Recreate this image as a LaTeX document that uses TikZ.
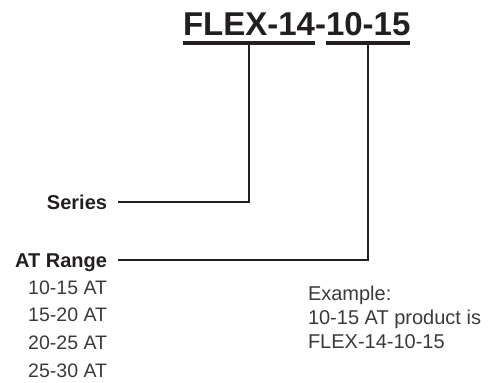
\documentclass[tikz,border=0pt]{standalone}
\usepackage{fontspec}
\setmainfont{Liberation Sans}
\usetikzlibrary{calc}
\definecolor{ink}{HTML}{231F20}
\definecolor{txt}{HTML}{3A3A3A}
\begin{document}
\begin{tikzpicture}[x=1pt,y=-1pt,
  every node/.style={inner sep=0pt,outer sep=0pt},
  title/.style={font=\fontsize{33}{33}\selectfont\bfseries,text=ink,anchor=base west},
  label/.style={font=\fontsize{20}{24}\selectfont\bfseries,text=ink,anchor=base east},
  item/.style={font=\fontsize{19.5}{24}\selectfont,text=txt,anchor=base east},
  note/.style={font=\fontsize{20}{24}\selectfont,text=txt,anchor=base west},
  uline/.style={line width=3.5pt,draw=ink},
  conn/.style={line width=2pt,draw=ink}]
\useasboundingbox (0,0) rectangle (493,383);
% title
\node[title] (t1) at (183,35) {FLEX-14};
\node[title] (t2) at (t1.base east) {-};
\node[title] (t3) at (t2.base east) {10-15};
\draw[uline] ($(t1.base west)+(0,7.75)$) -- ($(t1.base east)+(0,7.75)$);
\draw[uline] ($(t3.base west)+(0,7.75)$) -- ($(t3.base east)+(0,7.75)$);
\coordinate (u1) at ($(t1.base)+(0,9.5)$);
\coordinate (u3) at ($(t3.base)+(0,9.5)$);
% labels
\node[label] (ser) at (107,209) {Series};
\node[label] (atr) at (107,267) {AT Range};
\coordinate (s1) at ($(ser.base east)+(11,-7)$);
\coordinate (a1) at ($(atr.base east)+(11,-7)$);
\draw[conn] (s1) -| (u1);
\draw[conn] (a1) -| (u3);
% ranges
\node[item] (r1) at (107,294) {10-15 AT};
\node[item] (r2) at (107,321.5) {15-20 AT};
\node[item] (r3) at (107,349) {20-25 AT};
\node[item] (r4) at (107,377) {25-30 AT};
% example
\node[note] (e1) at (308,300) {Example:};
\node[note] (e2) at (308,324) {10-15 AT product is};
\node[note] (e3) at (308,348) {FLEX-14-10-15};
\end{tikzpicture}
\end{document}
